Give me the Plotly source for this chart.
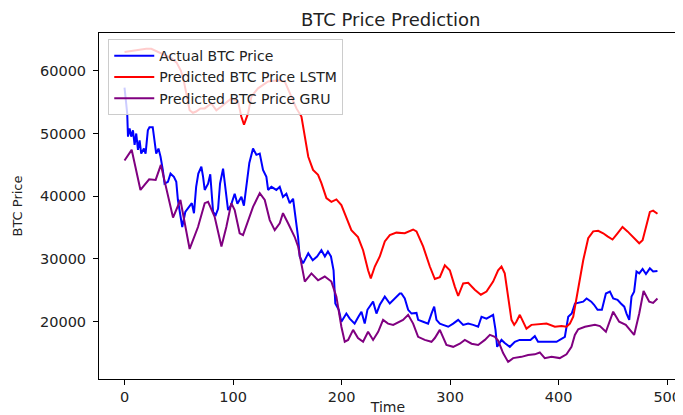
import plotly.graph_objects as go

# ---- data ----
actual_t = [0, 2.5, 3.2, 4.7, 6.2, 7.8, 9.3, 10.8, 12.4, 13.9, 15.4, 17.9, 19.4, 21.5, 23, 26, 27.6, 29.2, 31.3,
            33.2, 35.3, 36.9, 40, 42.4, 45.5, 47.7, 49.2, 51.7, 53.2, 56, 59, 62, 64, 66, 68, 70.8, 72.4, 73.9,
            77, 79, 81.6, 84, 86.2, 88, 90.8, 93, 95.4, 98, 101.5, 104, 107.7, 110, 112.3, 115, 118.4, 121.5,
            124.6, 127.6, 130.7, 132.3, 135.3, 139.9, 143, 146, 149.1, 152.2, 155.3, 158.3, 159.9, 161.4, 164.5,
            169.3, 173.4, 177.4, 181.4, 184.6, 187.4, 190.2, 192.6, 194.2, 197.4, 199.8, 204.4, 207.5, 212,
            215.5, 218.3, 221.3, 223.8, 229, 232.1, 235.2, 239.8, 244.4, 249, 253.6, 255.1, 258.2, 261.3, 264.4,
            269, 270.5, 275.1, 279.7, 282.8, 285.3, 287.4, 290.5, 293.5, 298.2, 302.8, 307.4, 312, 316.6, 321.2,
            325.8, 328.9, 333.5, 339.6, 341.8, 343.3, 347.3, 350.3, 355, 359.6, 364, 368.8, 374, 378, 381, 390.3,
            398, 405.7, 408.8, 412, 415, 422.6, 425.7, 430, 432.6, 435.8, 439.8, 443.5, 447.2, 450.2, 454.2,
            457.3, 460.4, 462.5, 465, 467.1, 469.5, 471.7, 474.2, 477.3, 480.4, 484, 487, 491]
actual_price = [57300, 53200, 49500, 50800, 49500, 50500, 48200, 50000, 47400, 48900, 46800, 47600, 46800, 50500,
                51000, 51000, 48900, 46800, 47600, 46300, 44200, 42000, 42300, 43600, 43100, 42300, 39400, 36700,
                35100, 37500, 38300, 38900, 37300, 41500, 43600, 44700, 43100, 41000, 42000, 43500, 37500, 37000,
                38000, 42000, 44400, 41000, 37800, 38500, 40400, 38800, 39900, 38500, 42000, 45300, 47600, 46600,
                46800, 44200, 43100, 41000, 41500, 41000, 41500, 39900, 40400, 38900, 39600, 35700, 33500, 30400,
                29300, 30900, 29800, 30400, 31400, 30400, 31200, 30400, 28200, 22900, 21900, 20000, 21300, 20500,
                19700, 20800, 21600, 19700, 21900, 23200, 21300, 22700, 24000, 22900, 23700, 24500, 24500, 23700,
                21900, 21300, 21400, 20300, 20000, 19700, 21300, 22400, 20300, 19700, 19500, 19200, 19700, 20300,
                19500, 19700, 19500, 19200, 20800, 20500, 21100, 18700, 16000, 17100, 16600, 16000, 16800, 17100,
                17100, 17100, 17700, 16800, 16800, 16800, 17600, 20800, 21300, 22900, 23200, 23700, 23200, 22700,
                21900, 21900, 24500, 24800, 23700, 23500, 22900, 22400, 21300, 20300, 24000, 24800, 28000, 27700,
                28400, 27600, 28500, 28000, 28100]

lstm_t = [0, 10, 20, 24.7, 33.9, 43, 48, 52, 54.5, 57, 60, 63, 66, 70, 73.9, 80, 84.6, 90.7, 98.4, 104.6, 107.6,
          110.1, 113.8, 116.9, 123, 132.3, 141.5, 147.6, 153.8, 158.4, 163, 165.3, 169.3, 173.7, 178.3, 181.4,
          186, 190.6, 195.2, 199.8, 204.4, 209, 215.1, 219.8, 224.4, 226.9, 230.6, 235.2, 239.8, 244.4, 250.5,
          258.2, 265.9, 269, 275.1, 281.3, 285.9, 290.5, 295.1, 299.7, 304.3, 307.4, 312, 316.6, 322.7, 328.3,
          333.5, 339.6, 344.2, 347.3, 350.3, 353.4, 356.5, 359, 361, 364.2, 367.3, 370.3, 374.9, 381, 388.8,
          396.5, 402.6, 407.2, 410.3, 413.4, 418, 422.6, 427.2, 431.8, 436.4, 441, 445, 449.6, 454.2, 458.8,
          463.4, 468, 474.2, 477.3, 480.4, 484, 487, 491]
lstm_price = [63000, 63300, 63500, 63500, 62800, 62000, 61300, 60000, 58500, 56000, 53700, 53300, 53500, 54000,
              54000, 54800, 53700, 54500, 55600, 55100, 52700, 51400, 53200, 55900, 57200, 58300, 58500, 58300,
              55900, 54000, 52700, 50500, 46300, 44200, 43400, 42100, 39700, 39100, 39500, 38600, 36700, 34600,
              33500, 31400, 28200, 26900, 28800, 30400, 32800, 33800, 34200, 34100, 34700, 34400, 32000, 28800,
              26800, 27100, 29000, 28200, 25600, 24100, 26100, 26200, 25100, 24300, 24800, 26400, 28200, 28800,
              27700, 24000, 20300, 19500, 20000, 21100, 20000, 18900, 19500, 19600, 19700, 19200, 19300, 19200,
              19700, 20800, 25100, 29800, 33300, 34400, 34500, 34100, 33600, 33100, 34100, 35100, 34400, 33600,
              32500, 33000, 35100, 37500, 37700, 37200]

gru_t = [0, 6.6, 14.7, 22.7, 28.7, 33.5, 44.7, 51.5, 60, 67.7, 73.9, 77, 83.1, 89.3, 93.8, 98.4, 101.5, 106.1,
         109.2, 113.8, 118.4, 124.6, 129.2, 133.8, 138.4, 143, 146, 150.7, 156.8, 159.9, 162.9, 166.1, 172.2,
         178.3, 184.5, 190.6, 195.2, 199.8, 202.9, 206, 210.6, 215.1, 219.8, 224.4, 229, 233.7, 238.2, 242.8,
         247.5, 252, 256.6, 261.3, 265.9, 270.5, 276.6, 282.8, 285.9, 290.5, 293.5, 296.6, 302.8, 308.9, 313.5,
         319.7, 325.8, 332, 336.6, 341.2, 344.2, 348.8, 353.4, 358, 365.7, 371.8, 378, 382.6, 387.2, 393.4, 401,
         407.2, 411.8, 414.9, 418, 424.2, 433.4, 438, 443.5, 450.2, 455.7, 461.8, 469.5, 474.2, 478.2, 483.4,
         487, 491]
gru_price = [45700, 47400, 41000, 42700, 42600, 45000, 36600, 39400, 31600, 35100, 38900, 39100, 36700, 32000,
             35100, 38900, 37800, 34100, 33800, 35900, 38300, 40500, 39400, 36200, 34600, 35700, 37300, 35700,
             33500, 32000, 29300, 26400, 27700, 26600, 27200, 26400, 24000, 19200, 16800, 17100, 18700, 17400,
             16800, 18400, 17100, 18400, 20300, 19700, 19500, 19900, 20300, 21100, 19700, 17600, 17100, 16800,
             17400, 18700, 17600, 16300, 16000, 16500, 17100, 16500, 16300, 17100, 17900, 17600, 17000, 15000,
             13600, 14200, 14400, 14700, 14800, 15100, 14200, 14400, 14200, 14800, 16000, 17900, 18800, 19200,
             19500, 19300, 18400, 21600, 20000, 19500, 17900, 21300, 24900, 23200, 23000, 23700]

x_ticks = [0, 100, 200, 300, 400, 500]
y_ticks = [20000, 30000, 40000, 50000, 60000]

FONT = "DejaVu Sans"
TXT = "#222222"

fig = go.Figure()
fig.add_trace(go.Scatter(x=actual_t, y=actual_price, mode="lines", name="Actual BTC Price",
                         line=dict(color="blue", width=2)))
fig.add_trace(go.Scatter(x=lstm_t, y=lstm_price, mode="lines", name="Predicted BTC Price LSTM",
                         line=dict(color="red", width=2)))
fig.add_trace(go.Scatter(x=gru_t, y=gru_price, mode="lines", name="Predicted BTC Price GRU",
                         line=dict(color="purple", width=2)))

axis_common = dict(showline=True, linecolor="black", linewidth=1, mirror=True, ticks="outside",
                   ticklen=5, tickwidth=1, tickcolor="black", showgrid=False, zeroline=False,
                   automargin=False, tickfont=dict(family=FONT, size=14.5, color=TXT))

# The page body has an 8px margin, so the figure is sized to the visible area.
fig.update_layout(
    template="none",
    width=675, height=407,
    margin=dict(l=91, r=6, t=25, b=36, pad=0),
    paper_bgcolor="white", plot_bgcolor="white",
    font=dict(family=FONT, color=TXT),
    title=dict(text="BTC Price Prediction", x=0.567, xanchor="center", y=0.9705, yanchor="middle",
               automargin=False, font=dict(family=FONT, size=18, color=TXT)),
    xaxis=dict(range=[-23.5, 509], tickvals=x_ticks, ticktext=[str(v) for v in x_ticks],
               title=dict(text="Time", font=dict(family=FONT, size=14, color=TXT), standoff=2),
               **axis_common),
    yaxis=dict(range=[10870, 66020], tickvals=y_ticks, ticktext=[str(v) for v in y_ticks],
               ticklabelstandoff=4,
               title=dict(text="BTC Price", font=dict(family=FONT, size=13, color=TXT), standoff=14),
               **axis_common),
    legend=dict(x=0.016, y=0.982, xanchor="left", yanchor="top",
                bgcolor="rgba(255,255,255,0.8)", bordercolor="#cccccc", borderwidth=1,
                font=dict(family=FONT, size=14, color=TXT), tracegroupgap=0, itemwidth=40),
    showlegend=True,
)

fig.write_html("out.html")
